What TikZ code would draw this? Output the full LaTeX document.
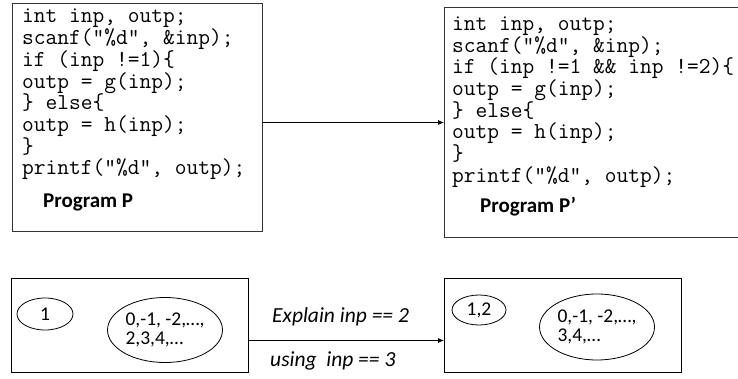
\documentclass[tikz,border=0pt]{standalone}
\usepackage{fontspec}
\setmainfont{Carlito}
\usetikzlibrary{shapes.geometric,arrows.meta}

\tikzset{
  box/.style={draw, line width=1pt, rectangle, anchor=north west, inner sep=0pt},
  code/.style={anchor=base west, inner sep=0pt, font=\ttfamily\fontsize{22.8}{22.8}\selectfont},
  title/.style={anchor=base west, inner sep=0pt, font=\bfseries\fontsize{21}{21}\selectfont},
  set/.style={draw, ellipse, line width=0.8pt, inner sep=0pt, align=left, font=\fontsize{19.5}{18.5}\selectfont},
  lbl/.style={anchor=base west, inner sep=0pt, font=\itshape\fontsize{21.5}{21.5}\selectfont},
  arr/.style={-{Latex[length=6pt,width=5pt]}, line width=0.8pt}
}

\begin{document}
\begin{tikzpicture}[x=1pt, y=-1pt]
\path [use as bounding box, clip] (0,0) rectangle (738,379);

% the two programs
\node [box, draw=black!80, minimum width=250pt, minimum height=228pt] (progP) at (12,3) {};
\node [box, draw=black!80, minimum width=330pt, minimum height=230pt] (progQ) at (444,7) {};

\foreach \ln [count=\i] in {{int inp, outp;},{scanf("\%d", \&inp);},{if (inp !=1)\{},{outp = g(inp);},{\} else\{},{outp = h(inp);},{\}},{printf("\%d", outp);}}
  \node [code] (pline\i) at (22, {23+21.7*(\i-1)}) {\ln};
\node [title] (nameP) at (43,208) {Program P};

\foreach \ln [count=\i] in {{int inp, outp;},{scanf("\%d", \&inp);},{if (inp !=1 \&\& inp !=2)\{},{outp = g(inp);},{\} else\{},{outp = h(inp);},{\}},{printf("\%d", outp);}}
  \node [code] (qline\i) at (452, {30.5+21.7*(\i-1)}) {\ln};
\node [title] (nameQ) at (480,213) {Program P’};

\draw [arr] (progP.east |- progQ.west) -- (progQ.west);

% input sets
\node [box, minimum width=237pt, minimum height=94pt] (setL) at (11,278) {};
\node [box, minimum width=237pt, minimum height=94pt] (setR) at (444,278) {};

\node [set, minimum width=56pt, minimum height=32pt] (oneL) at (45,314) {1};
\node [set, minimum width=115pt, minimum height=65pt] (restL) at (165,330) {0,-1, -2,…,\\2,3,4,…};
\node [set, minimum width=54pt, minimum height=30pt] (oneR) at (479,310) {1,2};
\node [set, minimum width=115pt, minimum height=66pt] (restR) at (597,327) {0,-1, -2,…,\\3,4,…};

\draw [arr] ([yshift=-15pt]setL.east) -- ([yshift=-15pt]setR.west);
\node [lbl] (explain) at (272,322) {Explain inp == 2};
\node [lbl] (using) at (270,366) {using~~inp == 3};

\end{tikzpicture}
\end{document}
